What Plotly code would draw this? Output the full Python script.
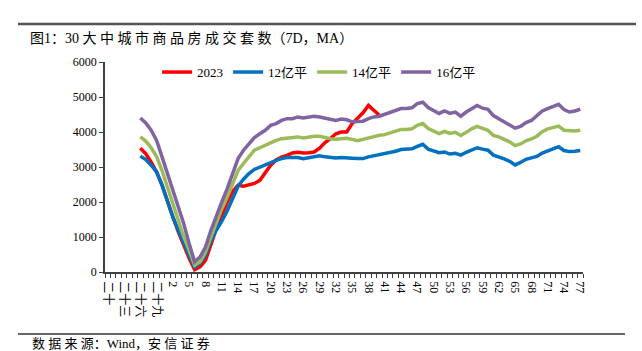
import plotly.graph_objects as go

categories = (["二十", "二十一", "二十二", "二十三", "二十四", "二十五", "二十六",
               "二十七", "二十八", "二十九", "三十"] + [str(d) for d in range(1, 78)])

red_2023 = [None] * 6 + [
    3540, 3380, 3140, 2860, 2480, 2000, 1570, 1150, 760, 390, 70, 150, 330, 810,
    1240, 1620, 2000, 2300, 2480, 2450, 2500, 2530, 2620, 2850, 3050, 3200, 3280,
    3330, 3400, 3420, 3400, 3410, 3430, 3540, 3700, 3810, 3950, 4000, 4000, 4240,
    4380, 4550, 4760, 4620, 4480] + [None] * 37

blue_12 = [None] * 6 + [
    3310, 3210, 3050, 2860, 2480, 2000, 1570, 1190, 810, 480, 140, 250, 480, 900,
    1200, 1450, 1750, 2100, 2450, 2650, 2810, 2930, 3000, 3070, 3130, 3190, 3240,
    3270, 3270, 3270, 3240, 3270, 3300, 3320, 3290, 3270, 3260, 3270, 3270, 3250,
    3240, 3240, 3290, 3320, 3350, 3380, 3420, 3450, 3500, 3500, 3520, 3590, 3650,
    3510, 3460, 3410, 3430, 3370, 3390, 3340, 3420, 3490, 3550, 3510, 3480, 3340,
    3290, 3230, 3160, 3060, 3130, 3220, 3260, 3300, 3400, 3460, 3500, 3580, 3470,
    3440, 3450, 3470]

green_14 = [None] * 6 + [
    3860, 3740, 3550, 3300, 2900, 2430, 1960, 1480, 1000, 620, 190, 290, 570, 1000,
    1420, 1810, 2140, 2530, 2900, 3100, 3300, 3480, 3550, 3620, 3700, 3760, 3810,
    3830, 3840, 3860, 3830, 3860, 3880, 3880, 3840, 3810, 3790, 3810, 3820, 3790,
    3750, 3790, 3830, 3890, 3905, 3925, 3980, 4020, 4075, 4075, 4090, 4190, 4240,
    4100, 4030, 3955, 4020, 3960, 3990, 3900, 3990, 4090, 4160, 4100, 4050, 3900,
    3860, 3790, 3720, 3610, 3660, 3750, 3800, 3880, 4010, 4090, 4130, 4170, 4050,
    4030, 4030, 4050]

purple_16 = [None] * 6 + [
    4400, 4260, 4050, 3760, 3290, 2810, 2330, 1860, 1380, 810, 290, 430, 710, 1190,
    1620, 2000, 2380, 2810, 3240, 3480, 3670, 3840, 3950, 4050, 4190, 4240, 4330,
    4380, 4380, 4430, 4400, 4430, 4450, 4430, 4390, 4350, 4330, 4370, 4350, 4290,
    4290, 4310, 4380, 4430, 4450, 4500, 4560, 4620, 4670, 4670, 4690, 4810, 4850,
    4700, 4620, 4530, 4600, 4530, 4570, 4450, 4570, 4670, 4760, 4680, 4650, 4470,
    4380, 4300, 4190, 4110, 4160, 4270, 4330, 4450, 4600, 4670, 4740, 4790, 4640,
    4570, 4600, 4650]

series = [
    ("2023", red_2023, "#FF0000"),
    ("12亿平", blue_12, "#0070C0"),
    ("14亿平", green_14, "#9BBB59"),
    ("16亿平", purple_16, "#8064A2"),
]

x_idx = list(range(len(categories)))
FONT = "Liberation Serif, Noto Sans CJK SC, serif"

fig = go.Figure()
for name, vals, color in series:
    fig.add_trace(go.Scatter(x=x_idx, y=vals, name=name, mode="lines",
                             line=dict(color=color, width=3.5), connectgaps=False))

tick_pos = x_idx[::3]
tick_txt = categories[::3]
bounds = [i - 0.5 for i in range(len(categories) + 1)]

fig.update_layout(
    width=642, height=351,
    margin=dict(l=105, r=59, t=62, b=79),
    paper_bgcolor="white", plot_bgcolor="white",
    font=dict(family=FONT, size=12, color="black"),
    showlegend=True,
    legend=dict(orientation="h", x=0.109, y=0.952, xanchor="left", yanchor="middle",
                bgcolor="rgba(0,0,0,0)", font=dict(family=FONT, size=13),
                itemwidth=30, tracegroupgap=0),
    title=dict(text="图1：30 大 中 城 市 商 品 房 成 交 套 数（7D，MA）",
               x=30 / 642, xref="container", xanchor="left",
               y=1 - 38 / 351, yref="container", yanchor="middle",
               font=dict(family=FONT, size=14, color="black")),
)

fig.update_xaxes(
    range=[-0.5, len(categories) - 0.5],
    tickmode="array", tickvals=tick_pos, ticktext=tick_txt, tickangle=90,
    ticks="outside", ticklen=5, tickcolor="rgba(0,0,0,0)",
    tickfont=dict(family=FONT, size=12),
    minor=dict(tickmode="array", tickvals=bounds, ticks="outside", ticklen=4,
               tickcolor="#404040", tickwidth=1),
    showline=True, linecolor="#404040", linewidth=1.5,
    showgrid=False, zeroline=False,
)
fig.update_yaxes(
    range=[0, 6000], tickmode="linear", tick0=0, dtick=1000,
    ticks="outside", ticklen=4, tickcolor="#404040",
    tickfont=dict(family=FONT, size=12),
    showline=True, linecolor="#404040", linewidth=1.5,
    showgrid=False, zeroline=False,
)

# header and footer rules
fig.add_shape(type="line", xref="paper", yref="paper",
              x0=(18 - 105) / 478, x1=(636 - 105) / 478,
              y0=(272 - 24) / 210, y1=(272 - 24) / 210,
              line=dict(color="#555555", width=2.5))
fig.add_shape(type="line", xref="paper", yref="paper",
              x0=(18 - 105) / 478, x1=(625 - 105) / 478,
              y0=(272 - 334) / 210, y1=(272 - 334) / 210,
              line=dict(color="#333333", width=1.5))

fig.add_annotation(text="数 据 来 源：Wind，安 信 证 券", xref="paper", yref="paper",
                   x=(30 - 105) / 478, y=(272 - 343) / 210,
                   xanchor="left", yanchor="middle", showarrow=False,
                   font=dict(family=FONT, size=13, color="black"))

fig.write_html("out.html")
